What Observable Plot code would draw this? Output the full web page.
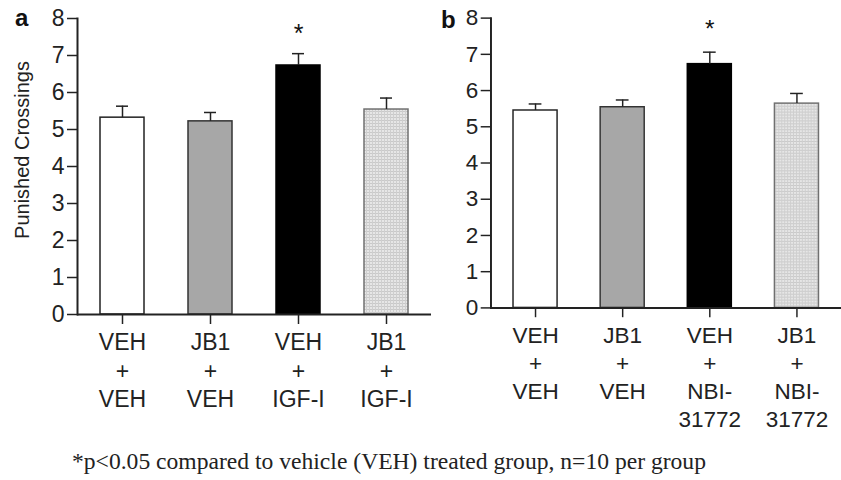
<!DOCTYPE html>
<html>
<head>
<meta charset="utf-8">
<script src="https://cdn.jsdelivr.net/npm/d3@7"></script>
<script src="https://cdn.jsdelivr.net/npm/@observablehq/plot@0.6"></script>
<style>
  html, body { margin: 0; padding: 0; background: #fff; }
  body { width: 841px; height: 480px; position: relative; overflow: hidden; font-family: "Liberation Sans", Arial, sans-serif; }
  .panel { position: absolute; top: 0; }
  .letter { position: absolute; font-weight: bold; font-size: 24px; color: #111; line-height: 1; }
  .ytitle { position: absolute; font-size: 20px; color: #222; white-space: nowrap; transform: translate(-50%, -50%) rotate(-90deg); }
  .caption { position: absolute; font-family: "Liberation Serif", "Times New Roman", serif; font-size: 23.6px; color: #222; white-space: nowrap; }
</style>
</head>
<body>
<svg width="0" height="0" style="position:absolute">
  <defs>
    <pattern id="gridfill" width="3" height="3" patternUnits="userSpaceOnUse">
      <rect width="3" height="3" fill="#e6e6e6"></rect>
      <rect width="3" height="1" fill="#c9c9c9"></rect>
      <rect width="1" height="3" fill="#cfcfcf"></rect>
    </pattern>
  </defs>
</svg>
<div id="pa" class="panel" style="left:0px"></div>
<div id="pb" class="panel" style="left:420px"></div>
<div class="letter" style="left:15px; top:6px">a</div>
<div class="letter" style="left:441px; top:8px">b</div>
<div class="ytitle" style="left:22px; top:150px">Punished Crossings</div>
<div class="caption" style="left:72px; top:448px">*p&lt;0.05 compared to vehicle (VEH) treated group, n=10 per group</div>
<script>
// ---- Data ----
const labelsA = ["VEH\n+\nVEH", "JB1\n+\nVEH", "VEH\n+\nIGF-I", "JB1\n+\nIGF-I"];
const meansA  = [5.32, 5.22, 6.73, 5.54];
const semA    = [0.31, 0.24, 0.32, 0.31];

const labelsB = ["VEH\n+\nVEH", "JB1\n+\nVEH", "VEH\n+\nNBI-\n31772", "JB1\n+\nNBI-\n31772"];
const meansB  = [5.45, 5.54, 6.73, 5.64];
const semB    = [0.18, 0.20, 0.33, 0.28];

const sigA = [{label: "VEH\n+\nIGF-I", y: 7.58}];
const sigB = [{label: "VEH\n+\nNBI-\n31772", y: 7.7}];

const yTicks = [0, 1, 2, 3, 4, 5, 6, 7, 8];

// ---- Styles ----
const fills   = ["#ffffff", "#a7a7a7", "#000000", "url(#gridfill)"];
const strokes = ["#222222", "#333333", "#000000", "#707070"];

function panel(labels, means, sems, sig, opts) {
  const data = labels.map((label, i) => ({label, value: means[i], err: sems[i], i}));
  return Plot.plot({
    width: opts.width,
    height: 440,
    marginLeft: opts.marginLeft,
    marginRight: opts.marginRight,
    marginTop: 18,
    marginBottom: 126,
    style: {fontFamily: "'Liberation Sans', Arial, sans-serif", fontSize: "22px", color: "#222", background: "transparent", overflow: "visible"},
    x: {type: "band", domain: labels, padding: 0, axis: null},
    y: {domain: [0, 8], axis: null},
    marks: [
      Plot.barY(data, {
        x: "label", y: "value",
        fill: d => fills[d.i], stroke: d => strokes[d.i], strokeWidth: 1.5,
        insetLeft: 22, insetRight: 22
      }),
      Plot.ruleX(data, {x: "label", y1: "value", y2: d => d.value + d.err, stroke: "#222", strokeWidth: 1.5}),
      Plot.tickY(data, {x: "label", y: d => d.value + d.err, stroke: "#222", strokeWidth: 1.5, insetLeft: 38, insetRight: 38}),
      Plot.text(sig, {x: "label", y: "y", text: () => "*", fontSize: 25, fill: "#111"}),
      Plot.axisY({ticks: yTicks, tickSize: 10, tickPadding: 3, fontSize: 23, label: null, stroke: "#222", strokeWidth: 1.5}),
      Plot.axisX({tickSize: 10, tickPadding: 5, fontSize: 23, label: null, lineHeight: 1.25, stroke: "#222", strokeWidth: 1.5}),
      Plot.ruleY([0], {stroke: "#222", strokeWidth: 2}),
      Plot.frame({anchor: "left", stroke: "#222", strokeWidth: 2})
    ]
  });
}

document.getElementById("pa").appendChild(panel(labelsA, meansA, semA, sigA, {width: 440, marginLeft: 77, marginRight: 9}));
document.getElementById("pb").appendChild(panel(labelsB, meansB, semB, sigB, {width: 430, marginLeft: 72, marginRight: 0}));
</script>
</body>
</html>
